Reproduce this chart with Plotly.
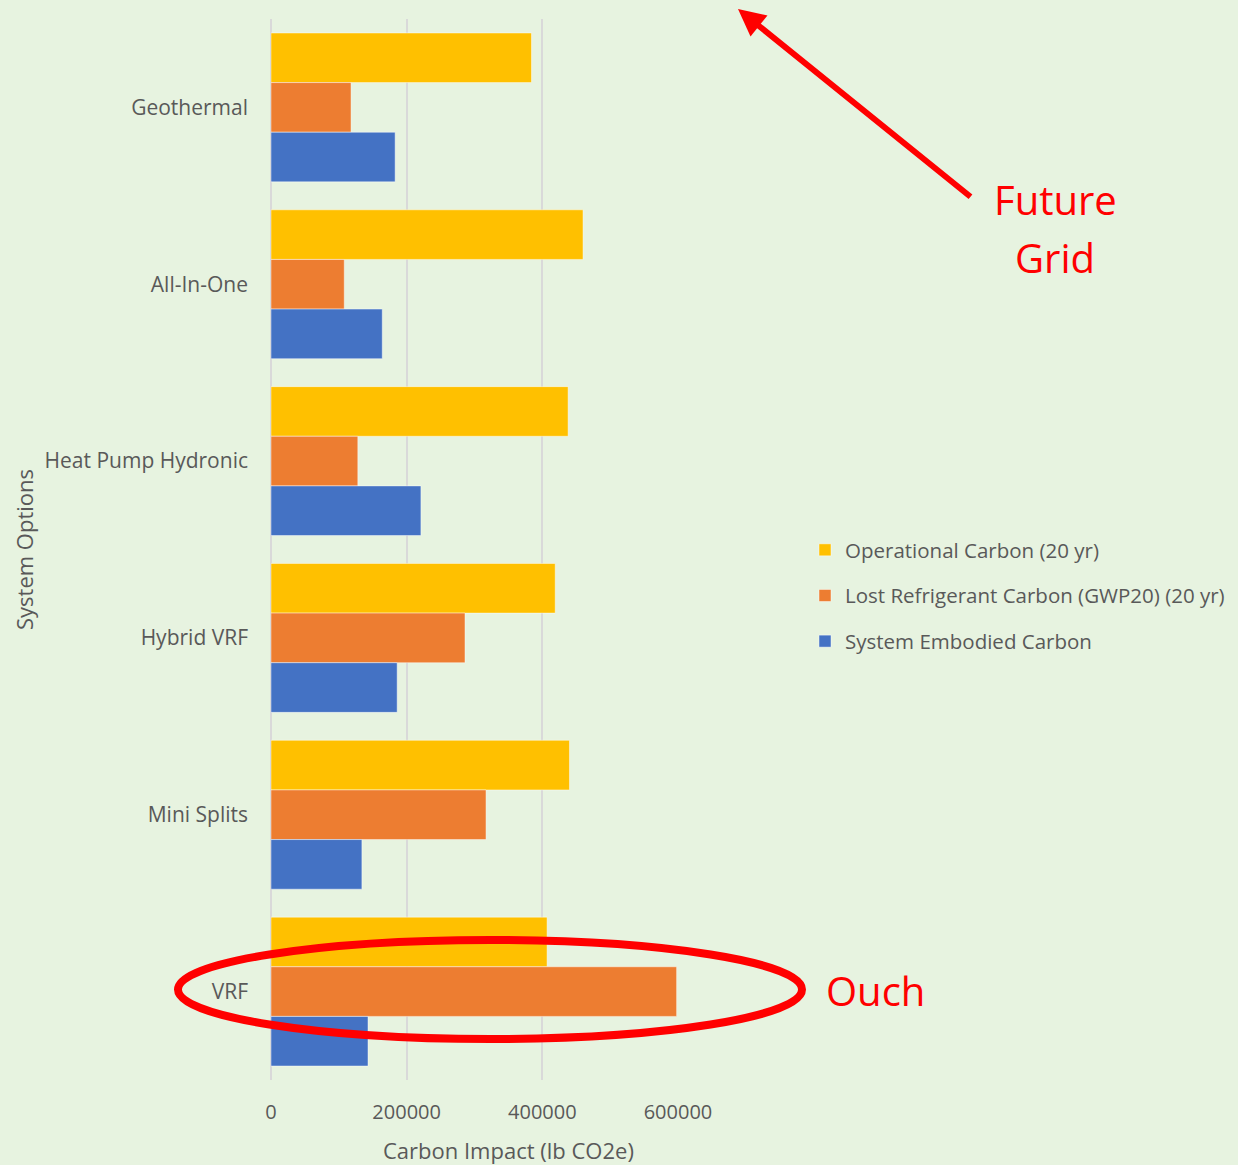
import plotly.graph_objects as go

categories = ["Geothermal", "All-In-One", "Heat Pump Hydronic", "Hybrid VRF", "Mini Splits", "VRF"]
operational = [384000, 460000, 438000, 419000, 440000, 407000]
refrigerant = [118000, 108000, 128000, 286000, 317000, 598000]
embodied = [183000, 164000, 221000, 186000, 134000, 143000]
series_names = ["Operational Carbon (20 yr)", "Lost Refrigerant Carbon (GWP20) (20 yr)", "System Embodied Carbon"]
series_colors = ["#FFC000", "#ED7D31", "#4472C4"]
x_ticks = [0, 200000, 400000, 600000]

FONT = "Open Sans"
GRAY = "#595959"

fig = go.Figure()
for name, vals, col in zip(series_names, [operational, refrigerant, embodied], series_colors):
    fig.add_trace(go.Bar(
        y=categories, x=vals, name=name, orientation="h",
        marker=dict(color=col, line=dict(color="rgba(255,255,255,0.45)", width=1)),
        legendgroup=name,
    ))

# plot area in pixels
L, R, T, B = 271, 678, 19, 1080
W, H = 1238, 1165
pw, ph = R - L, B - T

def px(x):
    return (x - L) / pw

def py(y):
    return (B - y) / ph

fig.update_layout(
    width=W, height=H,
    margin=dict(l=L, r=W - R, t=T, b=H - B, autoexpand=False),
    paper_bgcolor="#e7f3e0",
    plot_bgcolor="rgba(0,0,0,0)",
    barmode="group",
    bargap=0.158,
    bargroupgap=0,
    font=dict(family=FONT, color=GRAY, size=20),
    legend=dict(
        x=px(805), y=py(530), xanchor="left", yanchor="top",
        font=dict(size=20.5, color=GRAY),
        bgcolor="rgba(0,0,0,0)",
        traceorder="grouped",
        tracegroupgap=16,
        itemwidth=30,
    ),
    xaxis=dict(
        range=[0, 600000], tickvals=x_ticks, ticktext=[str(v) for v in x_ticks],
        showgrid=True, gridcolor="#d9d9d9", gridwidth=1.5,
        zeroline=True, zerolinecolor="#d9d9d9", zerolinewidth=1.5,
        showline=False, ticks="", ticklabelstandoff=18,
        tickfont=dict(size=20, color=GRAY),
    ),
    yaxis=dict(
        autorange="reversed", ticks="", ticklabelstandoff=22,
        tickfont=dict(size=21, color=GRAY), showgrid=False,
    ),
    showlegend=True,
)

def note(text, x, y, size, color, angle=0):
    fig.add_annotation(text=text, x=px(x), y=py(y), xref="paper", yref="paper",
                       xanchor="center", yanchor="middle", showarrow=False, textangle=angle,
                       font=dict(size=size, color=color, family=FONT))

# axis titles
note("Carbon Impact (lb CO2e)", 508, 1150, 22, GRAY)
note("System Options", 24, 550, 22, GRAY, -90)

# red callouts
RED = "#FF0000"
fig.add_annotation(text="", x=px(738), y=py(9), xref="paper", yref="paper",
                   ax=972 - 738, ay=198 - 9, axref="pixel", ayref="pixel",
                   showarrow=True, arrowhead=2, arrowsize=0.9, arrowwidth=6, arrowcolor=RED)
note("Future", 1055, 200, 40, RED)
note("Grid", 1055, 257, 40, RED)
note("Ouch", 875, 990, 40, RED)

fig.add_shape(type="circle", xref="paper", yref="paper",
              x0=px(178), x1=px(802), y0=py(1039), y1=py(940),
              line=dict(color=RED, width=8))

fig.write_html("out.html")
